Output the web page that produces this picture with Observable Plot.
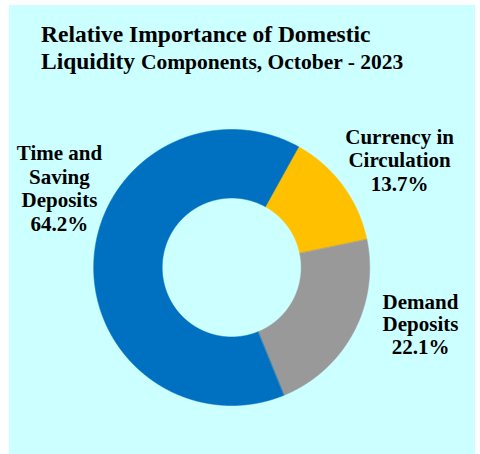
<!DOCTYPE html>
<html><head><meta charset="utf-8">
<script src="https://cdn.jsdelivr.net/npm/d3@7"></script>
<script src="https://cdn.jsdelivr.net/npm/@observablehq/plot@0.6"></script>
<style>
body{margin:0;background:#fff;}
#panel{position:absolute;left:9px;top:5px;width:466px;height:449px;background:#ccffff;overflow:hidden;}
#chart{position:absolute;left:0;top:0;}
#title{position:absolute;left:32px;top:16.2px;font-family:"Liberation Serif","Times New Roman",serif;font-weight:bold;font-size:23.5px;line-height:26.6px;color:#000;white-space:nowrap;}
#title .small{font-size:21.5px;}
</style></head><body>
<div id="panel"><div id="chart"></div><div id="title">Relative Importance of Domestic<br>Liquidity <span class="small">Components, October - 2023</span></div></div>
<script>
// Data
const categories = ["Currency in Circulation", "Demand Deposits", "Time and Saving Deposits"];
const shares = [13.7, 22.1, 64.2];
const labelText = ["Currency in\nCirculation", "Demand\nDeposits", "Time and\nSaving\nDeposits"];
const colors = ["#FFC000", "#999999", "#0070C0"];

// Layout (pixels)
const W = 466, H = 449, cx = 222.2, cy = 262;
const rOuter = 138, rInner = 69.5;
const startDeg = 29;

const rows = categories.map((c, i) => ({name: c, share: shares[i], label: labelText[i] + "\n" + shares[i].toFixed(1) + "%"}));
const arcs = d3.pie().sort(null).value(d => d.share)
  .startAngle(startDeg * Math.PI / 180).endAngle(startDeg * Math.PI / 180 + 2 * Math.PI)(rows);

const pts = [];
const step = Math.PI / 720;
for (const a of arcs) {
  const n = Math.max(2, Math.ceil((a.endAngle - a.startAngle) / step));
  for (let k = 0; k <= n; k++) {
    const t = a.startAngle + (a.endAngle - a.startAngle) * k / n;
    pts.push({name: a.data.name, x: rOuter * Math.sin(t), y: rOuter * Math.cos(t)});
  }
  for (let k = n; k >= 0; k--) {
    const t = a.startAngle + (a.endAngle - a.startAngle) * k / n;
    pts.push({name: a.data.name, x: rInner * Math.sin(t), y: rInner * Math.cos(t)});
  }
}
const anchors = arcs.map(a => {
  const m = (a.startAngle + a.endAngle) / 2;
  return {name: a.data.name, label: a.data.label, x: rOuter * Math.sin(m), y: rOuter * Math.cos(m)};
});

const font = "'Liberation Serif', 'Times New Roman', serif";
const labelOpts = [
  {dx: 56.7, dy: -25.9, lineHeight: 1.14},
  {dx: 67.1, dy: -8.5, lineHeight: 1.07},
  {dx: -34.5, dy: -71.4, lineHeight: 1.14}
];

const chart = Plot.plot({
  width: W, height: H, margin: 0,
  style: {background: "transparent", overflow: "visible"},
  x: {domain: [-cx, W - cx], axis: null},
  y: {domain: [-(H - cy), cy], axis: null},
  color: {domain: categories, range: colors},
  marks: [
    Plot.line(pts, {x: "x", y: "y", z: "name", fill: "name", stroke: "name", strokeWidth: 0.6, curve: "linear-closed"}),
    ...anchors.map((d, i) => Plot.text([d], {
      x: "x", y: "y", text: "label",
      dx: labelOpts[i].dx, dy: labelOpts[i].dy, lineHeight: labelOpts[i].lineHeight,
      fontSize: 21, fontWeight: "bold", fontFamily: font, fill: "#000", textAnchor: "middle"
    }))
  ]
});
document.getElementById("chart").appendChild(chart);
</script>
</body></html>
